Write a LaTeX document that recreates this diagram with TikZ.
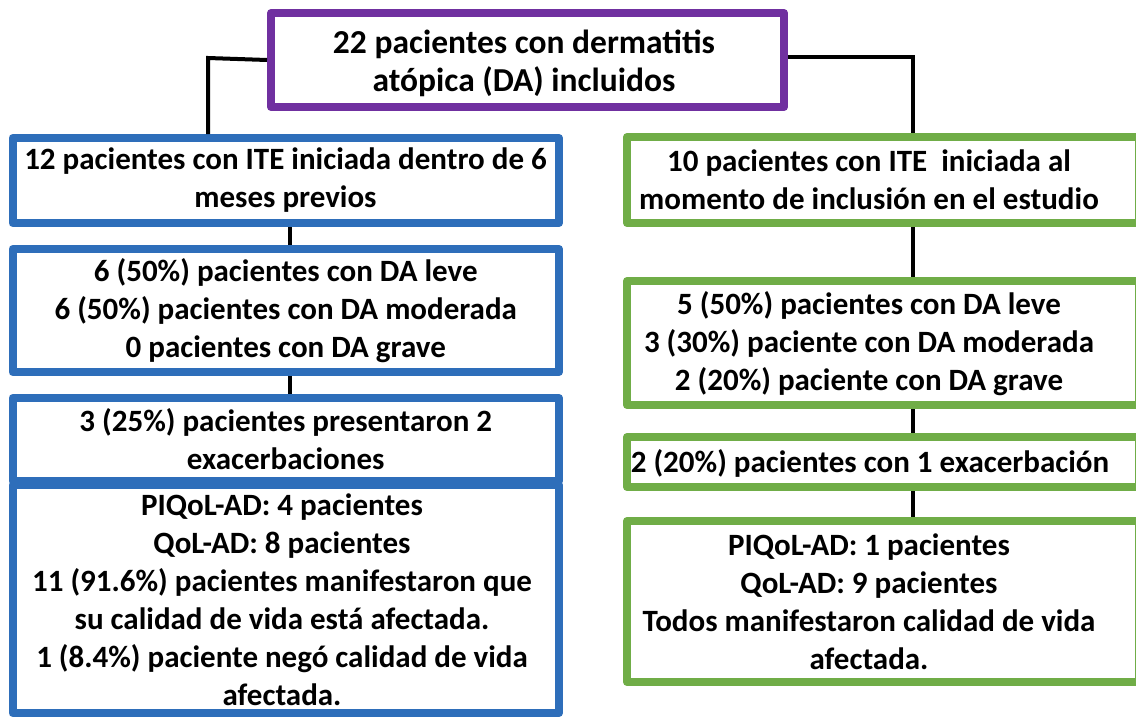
\documentclass[tikz,border=0pt]{standalone}
\usepackage{fontspec}
\setmainfont{Carlito}
\definecolor{purp}{HTML}{7030A0}
\definecolor{blu}{HTML}{2E6EBA}
\definecolor{grn}{HTML}{70AD47}
\tikzset{
  box/.style={draw, line width=8pt, rectangle, fill=white, inner sep=0pt, line join=round},
  pbox/.style={box, draw=purp},
  bbox/.style={box, draw=blu},
  gbox/.style={box, draw=grn},
  txt/.style={align=center, inner sep=0pt, font=\bfseries\fontsize{31}{38}\selectfont},
  ptxt/.style={txt, font=\bfseries\fontsize{33.5}{38}\selectfont},
  conn/.style={draw=black, line width=4pt}
}
\begin{document}
\begin{tikzpicture}[x=1pt,y=-1pt]
\useasboundingbox (0,0) rectangle (1136,717);
% boxes
\node[pbox, minimum width=513pt, minimum height=94pt] (p) at (527.5,60) {};
\node[bbox, minimum width=546.5pt, minimum height=85pt] (b1) at (285.75,180.5) {};
\node[bbox, minimum width=546.5pt, minimum height=123pt] (b2) at (285.75,310.5) {};
\node[bbox, minimum width=546.5pt, minimum height=83pt] (b3) at (285.75,439.5) {};
\node[bbox, minimum width=546.5pt, minimum height=228pt] (b4) at (285.75,599) {};
\node[gbox, minimum width=512pt, minimum height=86pt] (g1) at (883,180) {};
\node[gbox, minimum width=512pt, minimum height=124pt] (g2) at (883,343) {};
\node[gbox, minimum width=512pt, minimum height=50pt] (g3) at (883,462) {};
\node[gbox, minimum width=512pt, minimum height=161pt] (g4) at (883,601.5) {};
% texts
\node[ptxt] (tp) at (524,63) {22 pacientes con dermatitis\\at\'opica (DA) incluidos};
\node[txt] (tb1) at (285.5,180.5) {12 pacientes con ITE iniciada dentro de 6\\meses previos};
\node[txt] (tb2) at (285.75,311) {6 (50\%) pacientes con DA leve\\6 (50\%) pacientes con DA moderada\\0 pacientes con DA grave};
\node[txt] (tb3) at (285.75,439.5) {3 (25\%) pacientes presentaron 2\\exacerbaciones};
\node[txt] (tb4) at (282,600) {PIQoL-AD: 4 pacientes\\QoL-AD: 8 pacientes\\11 (91.6\%) pacientes manifestaron que\\su calidad de vida est\'a afectada.\\1 (8.4\%) paciente neg\'o calidad de vida\\afectada.};
\node[txt] (tg1) at (869,180) {10 pacientes con ITE\ \ iniciada al\\momento de inclusi\'on en el estudio};
\node[txt] (tg2) at (869,344) {5 (50\%) pacientes con DA leve\\3 (30\%) paciente con DA moderada\\2 (20\%) paciente con DA grave};
\node[txt] (tg3) at (870,463) {2 (20\%) pacientes con 1 exacerbaci\'on};
\node[txt] (tg4) at (869,601.5) {PIQoL-AD: 1 pacientes\\QoL-AD: 9 pacientes\\Todos manifestaron calidad de vida\\afectada.};
% connectors
\coordinate (lk) at (208,58);
\coordinate (rk) at (913,57);
\draw[conn, line join=miter] (p.west) -- (lk) -- (lk |- b1.north);
\draw[conn, line join=miter] (p.east |- rk) -- (rk) -- (rk |- g1.north);
\draw[conn] ([xshift=4.25pt]b1.south) -- ([xshift=4.25pt]b1.south |- b2.north);
\draw[conn] ([xshift=4.25pt]b2.south) -- ([xshift=4.25pt]b2.south |- b3.north);
\draw[conn] ([xshift=30pt]g1.south) -- ([xshift=30pt]g1.south |- g2.north);
\draw[conn] ([xshift=30pt]g2.south) -- ([xshift=30pt]g2.south |- g3.north);
\draw[conn] ([xshift=30pt]g3.south) -- ([xshift=30pt]g3.south |- g4.north);
\end{tikzpicture}
\end{document}
